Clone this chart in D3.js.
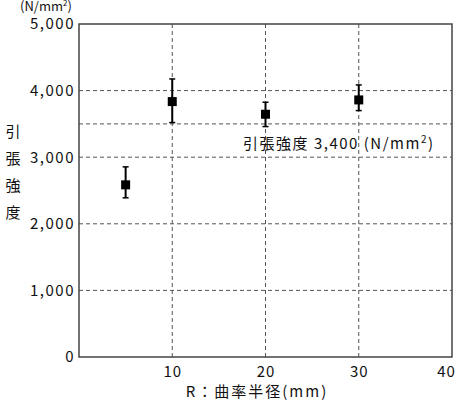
<!DOCTYPE html>
<html>
<head>
<meta charset="utf-8">
<script src="https://cdn.jsdelivr.net/npm/d3@7"></script>
<style>
  body { margin: 0; background: #fff; }
  text { font-family: "Noto Sans CJK JP", "DejaVu Sans", sans-serif; fill: #111; }
</style>
</head>
<body>
<svg width="456" height="409"></svg>
<script>
// values
const radius = [5, 10, 20, 30];
const strength = [2585, 3835, 3645, 3860];
const errHigh = [2855, 4175, 3825, 4085];
const errLow = [2390, 3520, 3460, 3700];
const yTicks = [0, 1000, 2000, 3000, 4000, 5000];
const xTicks = [10, 20, 30, 40];
const refLine = 3500;

const svg = d3.select("svg");
const margin = {top: 24, right: 4, bottom: 52, left: 79};
const width = 456 - margin.left - margin.right;
const height = 409 - margin.top - margin.bottom;
const graph = svg.append("g").attr("transform", "translate(" + margin.left + "," + margin.top + ")");

const x = d3.scaleLinear().domain([0, 40]).range([0, width]);
const y = d3.scaleLinear().domain([0, 5000]).range([height, 0]);

// dashed grid
graph.selectAll(".hgrid").data(yTicks.slice(1, -1).concat([refLine]))
  .enter().append("line")
  .attr("x1", 0).attr("x2", width)
  .attr("y1", d => y(d)).attr("y2", d => y(d))
  .attr("stroke", "#555").attr("stroke-width", 1).attr("stroke-dasharray", "4,3");
graph.selectAll(".vgrid").data(xTicks.slice(0, -1))
  .enter().append("line")
  .attr("y1", 0).attr("y2", height)
  .attr("x1", d => x(d)).attr("x2", d => x(d))
  .attr("stroke", "#555").attr("stroke-width", 1).attr("stroke-dasharray", "4,3");

// frame
graph.append("rect").attr("width", width).attr("height", height)
  .attr("fill", "none").attr("stroke", "#444").attr("stroke-width", 1.5);

// axes (text only)
const yAxis = d3.axisLeft(y).tickValues(yTicks).tickSize(0).tickPadding(4)
  .tickFormat(d => d3.format(",")(d));
const gy = graph.append("g").call(yAxis);
gy.select(".domain").remove();
gy.selectAll("text").attr("font-size", 15).style("letter-spacing", "1.5px")
  .style("font-family", "\"Noto Sans CJK JP\", sans-serif").attr("fill", "#111");

const xAxis = d3.axisBottom(x).tickValues(xTicks).tickSize(0).tickPadding(9);
const gx = graph.append("g").attr("transform", "translate(0," + height + ")").call(xAxis);
gx.select(".domain").remove();
gx.selectAll("text").attr("font-size", 15).style("letter-spacing", "1px")
  .style("font-family", "\"Noto Sans CJK JP\", sans-serif").attr("fill", "#111");
gx.selectAll(".tick").filter(d => d === 40).select("text").attr("dx", -6);

// error bars
const pts = radius.map((r, i) => ({r: r, v: strength[i], hi: errHigh[i], lo: errLow[i]}));
const eb = graph.selectAll(".eb").data(pts).enter().append("g");
eb.append("line").attr("x1", d => x(d.r)).attr("x2", d => x(d.r))
  .attr("y1", d => y(d.hi)).attr("y2", d => y(d.lo))
  .attr("stroke", "#000").attr("stroke-width", 2);
eb.append("line").attr("x1", d => x(d.r) - 3).attr("x2", d => x(d.r) + 3)
  .attr("y1", d => y(d.hi)).attr("y2", d => y(d.hi))
  .attr("stroke", "#000").attr("stroke-width", 1.5);
eb.append("line").attr("x1", d => x(d.r) - 3).attr("x2", d => x(d.r) + 3)
  .attr("y1", d => y(d.lo)).attr("y2", d => y(d.lo))
  .attr("stroke", "#000").attr("stroke-width", 1.5);
eb.append("rect").attr("x", d => x(d.r) - 4.5).attr("y", d => y(d.v) - 4.5)
  .attr("width", 9).attr("height", 9).attr("fill", "#000");

// reference label
const lab = graph.append("text").attr("x", x(17.6)).attr("y", y(refLine) + 25)
  .attr("font-size", 15).style("letter-spacing", "1.5px");
lab.append("tspan").text("引張強度 3,400 (N/mm");
lab.append("tspan").attr("font-size", 10).attr("dy", -6).text("2");
lab.append("tspan").attr("dy", 6).text(")");

// axis titles
const yTitle = ["引", "張", "強", "度"];
svg.selectAll(".yt").data(yTitle).enter().append("text")
  .attr("x", 13).attr("y", (d, i) => 137 + i * 27)
  .attr("text-anchor", "middle").attr("font-size", 15).text(d => d);

const unit = svg.append("text").attr("x", 20).attr("y", 11).attr("font-size", 13);
unit.append("tspan").text("(N/mm");
unit.append("tspan").attr("font-size", 8).attr("dy", -5).text("2");
unit.append("tspan").attr("dy", 5).text(")");

svg.append("text").attr("x", 257).attr("y", 397).attr("text-anchor", "middle")
  .attr("font-size", 15).style("letter-spacing", "2px").text("R：曲率半径(mm)");
</script>
</body>
</html>
